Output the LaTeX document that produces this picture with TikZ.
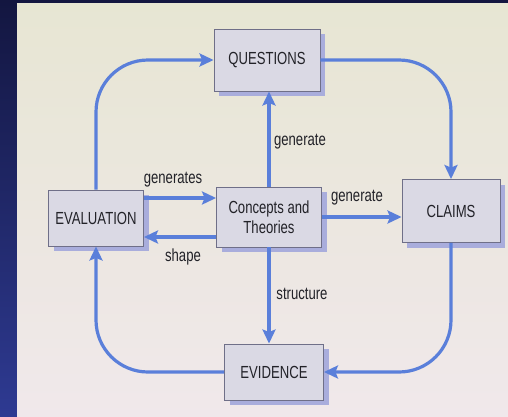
\documentclass[tikz,border=0pt]{standalone}
\usepackage{fontspec}
\newfontfamily\diagfont{Liberation Sans}[FakeStretch=0.75]
\usetikzlibrary{arrows.meta,shadows}
\definecolor{navytop}{HTML}{131640}
\definecolor{navybottom}{HTML}{2E3A92}
\definecolor{pagetop}{HTML}{E7E6D3}
\definecolor{pagebottom}{HTML}{F0E8EB}
\definecolor{arrowblue}{HTML}{5A7FDA}
\definecolor{boxfill}{HTML}{DAD9E4}
\definecolor{boxline}{HTML}{6F6F88}
\definecolor{shadowblue}{HTML}{A9ADDC}
\definecolor{ink}{HTML}{222228}

\begin{document}
\begin{tikzpicture}[x=1pt,y=-1pt,
    box/.style={draw=boxline,fill=boxfill,line width=0.9pt,inner sep=0pt,align=center,
        font=\diagfont\fontsize{17.5}{20}\selectfont,text=ink,
        drop shadow={shadow xshift=5pt,shadow yshift=-5pt,fill=shadowblue,opacity=1}},
    link/.style={draw=arrowblue,line width=3.2pt,-{Stealth[length=14pt,width=13pt,inset=2.5pt]}},
    lbl/.style={font=\diagfont\fontsize{17.5}{20}\selectfont,text=ink}]
    \useasboundingbox (0,0) rectangle (508,416);
    \shade[top color=navytop,bottom color=navybottom] (0,0) rectangle (508,416);
    \shade[top color=pagetop,bottom color=pagebottom] (17,3) rectangle (508,416);

    \node[box,minimum width=106pt,minimum height=62pt] (questions) at (267,60) {QUESTIONS};
    \node[box,minimum width=95pt,minimum height=56pt] (evaluation) at (96,218) {EVALUATION};
    \node[box,minimum width=105pt,minimum height=60pt] (concepts) at (269,217) {Concepts and\\Theories};
    \node[box,minimum width=98pt,minimum height=63pt] (claims) at (451,211) {CLAIMS};
    \node[box,minimum width=99pt,minimum height=56pt] (evidence) at (274,372) {EVIDENCE};

    \draw[link,rounded corners=52pt] (evaluation.north) |- (questions.west);
    \draw[link,rounded corners=52pt] (questions.east) -| (claims.north);
    \draw[link,rounded corners=52pt] (claims.south) |- (evidence.east);
    \draw[link,rounded corners=52pt] (evidence.west) -| (evaluation.south);

    \draw[link] (concepts.north) -- (concepts.north |- questions.south);
    \draw[link] (concepts.south) -- (concepts.south |- evidence.north);
    \draw[link] (concepts.east) -- (concepts.east -| claims.west);
    \draw[link] ([yshift=20pt]evaluation.east) -- ([yshift=20pt]evaluation.east -| concepts.west);
    \draw[link] ([yshift=-19pt]evaluation.east -| concepts.west) -- ([yshift=-19pt]evaluation.east);

    \node[lbl] (genq) at (300,142) {generate};
    \node[lbl] (genc) at (357,198) {generate};
    \node[lbl] (gens) at (173,180) {generates};
    \node[lbl] (shp) at (183,257) {shape};
    \node[lbl] (strc) at (302,294) {structure};
\end{tikzpicture}
\end{document}
